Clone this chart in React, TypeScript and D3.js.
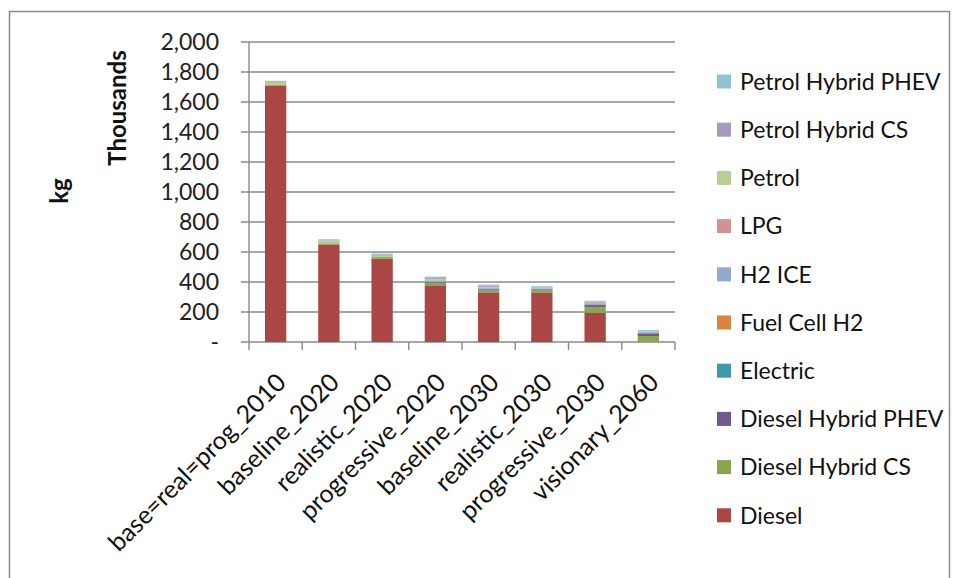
import React from "react";
import * as d3 from "d3";

const categories = [
  "base=real=prog_2010",
  "baseline_2020",
  "realistic_2020",
  "progressive_2020",
  "baseline_2030",
  "realistic_2030",
  "progressive_2030",
  "visionary_2060",
];

const seriesNames = [
  "Diesel",
  "Diesel Hybrid CS",
  "Diesel Hybrid PHEV",
  "Electric",
  "Fuel Cell H2",
  "H2 ICE",
  "LPG",
  "Petrol",
  "Petrol Hybrid CS",
  "Petrol Hybrid PHEV",
];

// values in thousand kg
const diesel = [1710, 650, 555, 378, 331, 327, 195, 0];
const dieselHybridCS = [3, 6, 8, 12, 14, 17, 36, 40];
const dieselHybridPHEV = [0, 2, 3, 8, 7, 7, 15, 17];
const electric = [0, 0, 1, 3, 3, 3, 5, 5];
const fuelCellH2 = [0, 0, 0, 1, 1, 1, 2, 2];
const h2ICE = [0, 0, 0, 4, 5, 4, 6, 5];
const lpg = [0, 0, 0, 0, 0, 0, 0, 0];
const petrol = [22, 12, 8, 12, 6, 5, 3, 0];
const petrolHybridCS = [6, 7, 8, 8, 8, 5, 6, 2];
const petrolHybridPHEV = [0, 8, 7, 10, 8, 5, 7, 8];

const seriesValues = [
  diesel,
  dieselHybridCS,
  dieselHybridPHEV,
  electric,
  fuelCellH2,
  h2ICE,
  lpg,
  petrol,
  petrolHybridCS,
  petrolHybridPHEV,
];

const colors = [
  "#AA4643",
  "#89A54E",
  "#71588F",
  "#4198AF",
  "#DB843D",
  "#93A9CF",
  "#D19392",
  "#B9CD96",
  "#A99BBD",
  "#92C3D4",
];

const yTicks = [0, 200, 400, 600, 800, 1000, 1200, 1400, 1600, 1800, 2000];

const W = 959;
const H = 578;
const plot = { left: 249, right: 675, top: 42, bottom: 342 };
const FONT = "Lato, 'Open Sans', sans-serif";

export default function App() {
  const rows = categories.map((c, i) => {
    const r: Record<string, any> = { category: c };
    seriesNames.forEach((s, j) => (r[s] = seriesValues[j][i]));
    return r;
  });
  const stacked = d3.stack<Record<string, any>>().keys(seriesNames)(rows);

  const x = d3
    .scaleBand<string>()
    .domain(categories)
    .range([plot.left, plot.right])
    .paddingInner(0.6)
    .paddingOuter(0.3);
  const xStep = d3.scaleBand<string>().domain(categories).range([plot.left, plot.right]);
  const y = d3.scaleLinear().domain([0, 2000]).range([plot.bottom, plot.top]);
  const fmt = d3.format(",");

  const legendTop = 81.5;
  const legendStep = 48.2;
  const legendOrder = seriesNames.map((_, i) => seriesNames.length - 1 - i);

  return (
    <svg
      width={W}
      height={H}
      style={{ position: "absolute", left: 0, top: 0, background: "#fff" }}
      fontFamily={FONT}
    >
      <rect x={9.5} y={11.5} width={940} height={600} fill="#fff" stroke="#8c8c8c" strokeWidth={1.5} />

      {/* gridlines */}
      {yTicks.map((t) => (
        <line key={t} x1={plot.left - 8} x2={plot.right} y1={y(t)} y2={y(t)} stroke="#8a8a8a" strokeWidth={1.4} />
      ))}

      {/* bars */}
      {stacked.map((layer, si) => (
        <g key={layer.key} fill={colors[si]}>
          {layer.map((d, i) =>
            d[1] - d[0] > 0 ? (
              <rect
                key={i}
                x={x(categories[i])}
                width={x.bandwidth()}
                y={y(d[1])}
                height={y(d[0]) - y(d[1])}
              />
            ) : null
          )}
        </g>
      ))}

      {/* axes */}
      <line x1={plot.left} x2={plot.left} y1={plot.top} y2={plot.bottom + 8} stroke="#8a8a8a" strokeWidth={1.4} />
      {categories.map((c) => (
        <line
          key={c}
          x1={(xStep(c) as number) + xStep.bandwidth()}
          x2={(xStep(c) as number) + xStep.bandwidth()}
          y1={plot.bottom}
          y2={plot.bottom + 8}
          stroke="#8a8a8a"
          strokeWidth={1.4}
        />
      ))}

      {/* y tick labels */}
      {yTicks.map((t) => (
        <text key={t} x={219} y={y(t)} dy="0.35em" textAnchor="end" fontSize={23} fill="#222">
          {t === 0 ? "-" : fmt(t)}
        </text>
      ))}

      {/* axis titles */}
      <text
        transform={`translate(126, 108) rotate(-90)`}
        textAnchor="middle"
        fontSize={24}
        fontWeight="bold"
        fill="#111"
      >
        Thousands
      </text>
      <text
        transform={`translate(68, 191) rotate(-90)`}
        textAnchor="middle"
        fontSize={24}
        fontWeight="bold"
        fill="#111"
      >
        kg
      </text>

      {/* category labels */}
      {categories.map((c) => {
        const cx = (xStep(c) as number) + xStep.bandwidth() / 2;
        return (
          <text
            key={c}
            transform={`translate(${cx + 12}, 384) rotate(-45)`}
            textAnchor="end"
            fontSize={25}
            fill="#111"
          >
            {c}
          </text>
        );
      })}

      {/* legend */}
      {legendOrder.map((si, k) => {
        const cy = legendTop + k * legendStep;
        return (
          <g key={seriesNames[si]}>
            <rect x={717} y={cy - 7} width={14} height={14} fill={colors[si]} />
            <text x={740} y={cy} dy="0.36em" fontSize={23} fill="#111">
              {seriesNames[si]}
            </text>
          </g>
        );
      })}
    </svg>
  );
}
